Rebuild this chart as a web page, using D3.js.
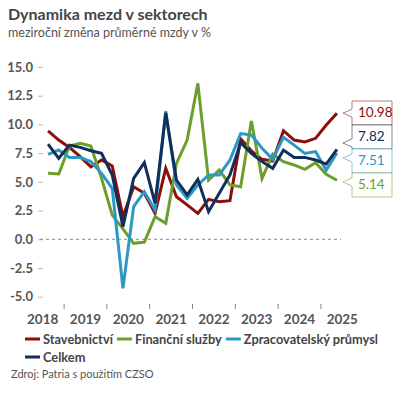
<!DOCTYPE html>
<html>
<head>
<meta charset="utf-8">
<script src="https://cdn.jsdelivr.net/npm/d3@7"></script>
<style>
  body { margin: 0; background: #fff; }
  svg { display: block; font-family: Lato, 'Open Sans', sans-serif; }
</style>
</head>
<body>
<div class="chart"></div>
<script>
var quarters = [
  '2018Q3', '2018Q4',
  '2019Q1', '2019Q2', '2019Q3', '2019Q4',
  '2020Q1', '2020Q2', '2020Q3', '2020Q4',
  '2021Q1', '2021Q2', '2021Q3', '2021Q4',
  '2022Q1', '2022Q2', '2022Q3', '2022Q4',
  '2023Q1', '2023Q2', '2023Q3', '2023Q4',
  '2024Q1', '2024Q2', '2024Q3', '2024Q4',
  '2025Q1', '2025Q2'
];
var stavebnictvi = [9.43, 8.64, 8.0, 7.2, 6.3, 6.9, 6.38, 1.97, 4.58, 4.0, 2.26, 6.18, 3.7, 3.0,
  2.26, 3.48, 3.27, 3.36, 8.75, 7.7, 6.96, 6.81, 9.45, 8.64, 8.47, 8.79, 9.95, 10.98];
var financni = [5.74, 5.68, 8.12, 8.35, 8.12, 5.3, 2.1, 0.9, -0.35, -0.25, 1.97, 1.39, 6.6, 8.64,
  13.58, 5.16, 6.03, 4.73, 4.58, 10.3, 5.3, 7.42, 6.76, 6.47, 6.09, 6.67, 5.65, 5.14];
var zpracovatelsky = [7.4, 7.77, 7.13, 7.13, 6.76, 5.74, 4.43, -4.27, 2.84, 4.14, 2.55, 11.15, 4.73, 3.57,
  4.73, 5.6, 5.6, 6.9, 9.2, 9.08, 7.92, 6.96, 8.88, 8.2, 7.48, 7.63, 6.03, 7.51];
var celkem = [8.29, 7.05, 8.2, 8.0, 7.71, 7.48, 5.6, 1.1, 5.3, 6.67, 3.13, 11.0, 5.16, 3.86,
  5.22, 2.4, 4.0, 5.6, 8.4, 7.48, 6.76, 6.18, 7.77, 7.13, 7.13, 6.9, 6.55, 7.82];

var seriesNames = ['Stavebnictví', 'Finanční služby', 'Zpracovatelský průmysl', 'Celkem'];
var seriesValues = [stavebnictvi, financni, zpracovatelsky, celkem];
var seriesColors = ['#8c0d0d', '#6b9e2a', '#2b98c6', '#102f5a'];
var yearLabels = ['2018', '2019', '2020', '2021', '2022', '2023', '2024', '2025'];
var yTicks = [-5, -2.5, 0, 2.5, 5, 7.5, 10, 12.5, 15];

(function(){

  var width = 400;
  var height = 400;
  var font = "Lato, 'Open Sans', sans-serif";

  var svg = d3.select('.chart')
              .append('svg')
              .attr('width', width)
              .attr('height', height);

  var x = d3.scaleLinear().domain([2018, 2026]).range([21.3, 363.7]);
  var y = d3.scaleLinear().domain([-5, 15]).range([296.7, 67]);

  function qx(q) {
    var yr = +q.slice(0, 4);
    var k = +q.slice(5);
    return x(yr + (k - 0.5) / 4);
  }

  // titles
  svg.append('text')
     .attr('x', 8).attr('y', 20)
     .attr('fill', '#444')
     .attr('font-size', '16px')
     .attr('font-weight', 'bold')
     .text('Dynamika mezd v sektorech');

  svg.append('text')
     .attr('x', 8).attr('y', 37)
     .attr('fill', '#555')
     .attr('font-size', '12.5px')
     .text('meziroční změna průměrné mzdy v %');

  // y axis
  var yAxis = svg.append('g')
     .attr('transform', 'translate(43,0)')
     .call(d3.axisLeft(y).tickValues(yTicks).tickSize(5).tickPadding(5)
             .tickFormat(function(d) { return d.toFixed(1); }));
  yAxis.select('.domain').remove();
  yAxis.selectAll('line').attr('stroke', '#bbb');
  yAxis.selectAll('text')
       .attr('fill', '#555')
       .attr('font-size', '13px')
       .attr('font-weight', 'bold')
       .attr('font-family', font);

  // zero line
  svg.append('line')
     .attr('x1', 40).attr('x2', 341)
     .attr('y1', y(0)).attr('y2', y(0))
     .attr('stroke', '#888')
     .attr('stroke-dasharray', '3,3');

  // x axis: tick at each year boundary, label in the middle of the year
  svg.selectAll('line.xtick')
     .data(yearLabels.slice(1))
     .enter()
     .append('line')
     .attr('class', 'xtick')
     .attr('x1', function(d) { return x(+d); })
     .attr('x2', function(d) { return x(+d); })
     .attr('y1', 304).attr('y2', 309)
     .attr('stroke', '#888');

  svg.selectAll('text.xlabel')
     .data(yearLabels)
     .enter()
     .append('text')
     .attr('class', 'xlabel')
     .attr('x', function(d) { return x(+d + 0.5); })
     .attr('y', 324)
     .attr('text-anchor', 'middle')
     .attr('fill', '#555')
     .attr('font-size', '13.5px')
     .attr('font-weight', 'bold')
     .text(function(d) { return d; });

  // lines
  var line = d3.line()
     .x(function(d, i) { return qx(quarters[i]); })
     .y(function(d) { return y(d); });

  svg.selectAll('path.series')
     .data(seriesValues)
     .enter()
     .append('path')
     .attr('class', 'series')
     .attr('d', line)
     .attr('fill', 'none')
     .attr('stroke', function(d, i) { return seriesColors[i]; })
     .attr('stroke-width', 3)
     .attr('stroke-linejoin', 'miter');

  // end labels, stacked so they do not overlap
  var boxH = 24;
  var lastX = qx(quarters[quarters.length - 1]);
  var labels = seriesValues.map(function(v, i) {
    var last = v[v.length - 1];
    return { i: i, value: last, py: y(last), cy: y(last) };
  }).sort(function(a, b) { return a.py - b.py; });

  var groups = labels.map(function(l) { return { items: [l], c: l.py }; });
  var merged = true;
  while (merged) {
    merged = false;
    for (var g = 0; g < groups.length - 1; g++) {
      var a = groups[g], b = groups[g + 1];
      var aBottom = a.c + a.items.length * boxH / 2;
      var bTop = b.c - b.items.length * boxH / 2;
      if (aBottom > bTop) {
        var items = a.items.concat(b.items);
        groups.splice(g, 2, { items: items, c: d3.mean(items, function(d) { return d.py; }) });
        merged = true;
        break;
      }
    }
  }
  groups.forEach(function(gr) {
    var top = gr.c - gr.items.length * boxH / 2;
    gr.items.forEach(function(l, k) { l.cy = top + boxH * (k + 0.5); });
  });

  var bx = 352, bw = 40;
  var lab = svg.selectAll('g.endlabel')
     .data(labels)
     .enter()
     .append('g')
     .attr('class', 'endlabel');

  lab.append('path')
     .attr('d', function(d) {
       var t = d.cy - boxH / 2, btm = d.cy + boxH / 2;
       var tip = Math.max(t + 9, Math.min(btm - 6, d.py));
       return 'M' + bx + ',' + t + 'H' + (bx + bw) + 'V' + btm + 'H' + bx +
              'V' + (tip + 4) + 'L' + (lastX + 6) + ',' + tip + 'L' + bx + ',' + (tip - 4) + 'Z';
     })
     .attr('fill', '#fff')
     .attr('stroke', function(d) { return seriesColors[d.i]; })
     .attr('stroke-opacity', 0.55)
     .attr('stroke-width', 1);

  lab.append('text')
     .attr('x', bx + 6)
     .attr('y', function(d) { return d.cy + 4.5; })
     .attr('fill', function(d) { return seriesColors[d.i]; })
     .attr('font-size', '13.5px')
     .text(function(d) { return d.value.toFixed(2); });

  // legend
  var lx = 25, ly = 339;
  seriesNames.forEach(function(name, i) {
    var item = svg.append('g');
    item.append('line')
        .attr('x1', 0).attr('x2', 15)
        .attr('y1', 0).attr('y2', 0)
        .attr('stroke', seriesColors[i])
        .attr('stroke-width', 3);
    var t = item.append('text')
        .attr('x', 18).attr('y', 4.5)
        .attr('fill', '#444')
        .attr('font-size', '12.8px')
        .attr('font-weight', 'bold')
        .text(name);
    var w = 18 + t.node().getComputedTextLength();
    if (lx + w > 398) { lx = 25; ly += 18; }
    item.attr('transform', 'translate(' + lx + ',' + ly + ')');
    lx += w + 4;
  });

  svg.append('text')
     .attr('x', 11).attr('y', 378)
     .attr('fill', '#555')
     .attr('font-size', '11px')
     .text('Zdroj: Patria s použitím CZSO');

})();
</script>
</body>
</html>
